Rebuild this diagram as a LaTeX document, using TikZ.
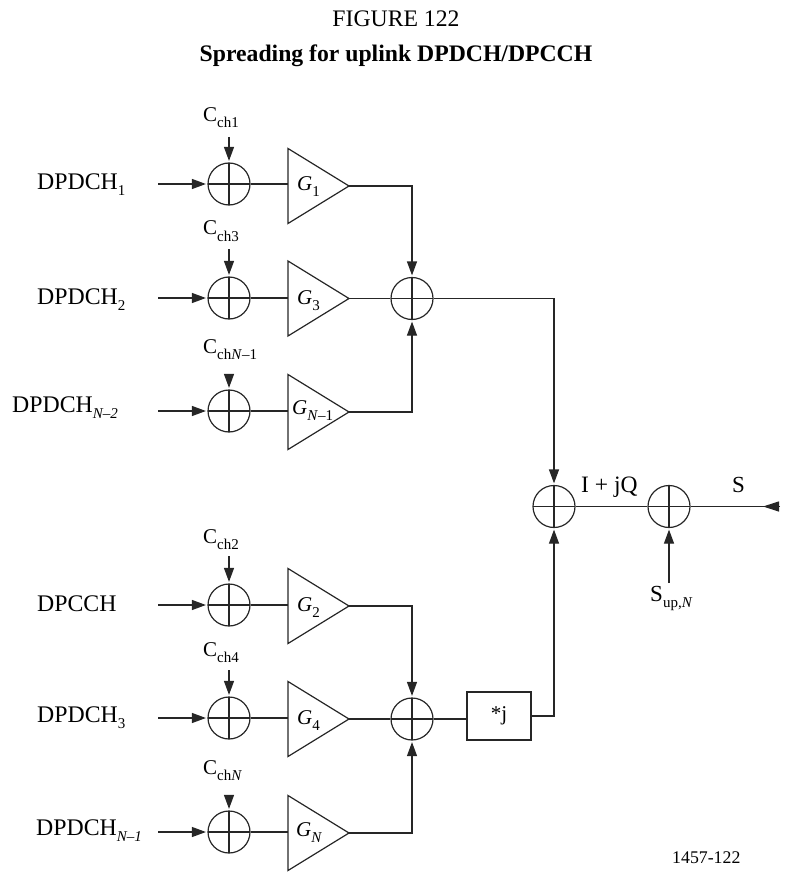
\documentclass[tikz,border=0pt]{standalone}
\usepackage{fontspec}
\setmainfont{Liberation Serif}
\usetikzlibrary{arrows.meta}
\newcommand{\lab}{\fontsize{23.8}{26}\selectfont}
\newcommand{\cod}{\fontsize{21}{24}\selectfont}
\newcommand{\ttl}{\fontsize{23.7}{26}\selectfont}
\newcommand{\sbs}[1]{\raisebox{-6pt}{\fontsize{15}{17}\selectfont #1}}
\tikzset{
  wire/.style={line width=1.2pt, black!85},
  arrowwire/.style={wire, -{Triangle[length=14pt,width=10pt]}, shorten >=1.5pt},
  sumnode/.style={circle, draw=black!85, line width=1.2pt, minimum size=42pt, inner sep=0pt,
    path picture={\draw[wire] (path picture bounding box.north)--(path picture bounding box.south)
      (path picture bounding box.west)--(path picture bounding box.east);}},
  tri/.style={wire, line join=miter},
  txt/.style={inner sep=0pt, font=\lab},
  codetxt/.style={inner sep=0pt, font=\cod},
  boxnode/.style={draw=black!85, line width=1.2pt, minimum width=64pt, minimum height=48pt, inner sep=0pt, font=\cod}
}
\begin{document}
\begin{tikzpicture}[x=1pt,y=-1pt]
\useasboundingbox (0,0) rectangle (785,877);
\node[inner sep=0pt,font=\ttl] (fig) at (396,19) {FIGURE 122};
\node[inner sep=0pt,font=\ttl\bfseries] (title) at (396,56) {Spreading for uplink DPDCH/DPCCH};

% summing nodes
\foreach \n/\y in {a/184,b/298,c/411,d/605,e/718,f/832}
  \node[sumnode] (s\n) at (229,\y) {};
\node[sumnode] (u) at (412,298.5) {};
\node[sumnode] (l) at (412,719) {};
\node[sumnode] (m) at (554,506.5) {};
\node[sumnode] (o) at (669,506.5) {};

% amplifiers
\foreach \n/\y in {a/186,b/298.5,c/412,d/606,e/719,f/833}{
  \coordinate (gl\n) at (288,\y);
  \coordinate (gt\n) at (349,\y);
  \draw[tri] (288,\y-37.5) -- (gt\n) -- (288,\y+37.5) -- cycle;
}
\node[codetxt,anchor=base west] (ga) at (297,191) {\textit{G}\sbs{1}};
\node[codetxt,anchor=base west] (gb) at (297,304) {\textit{G}\sbs{3}};
\node[codetxt,anchor=base west] (gc) at (292,414) {\textit{G}\sbs{\textit{N}–1}};
\node[codetxt,anchor=base west] (gd) at (297,611) {\textit{G}\sbs{2}};
\node[codetxt,anchor=base west] (ge) at (297,724) {\textit{G}\sbs{4}};
\node[codetxt,anchor=base west] (gf) at (296,836) {\textit{G}\sbs{\textit{N}}};

% input labels
\node[txt,anchor=base west] (ia) at (37,189.5) {DPDCH\sbs{1}};
\node[txt,anchor=base west] (ib) at (37,304) {DPDCH\sbs{2}};
\node[txt,anchor=base west] (ic) at (12,412) {DPDCH\sbs{\textit{N–2}}};
\node[txt,anchor=base west] (id) at (37,611) {DPCCH};
\node[txt,anchor=base west] (ie) at (37,722.5) {DPDCH\sbs{3}};
\node[txt,anchor=base west] (if) at (36,835) {DPDCH\sbs{\textit{N–1}}};
\foreach \n/\y in {a/184,b/298,c/411,d/605,e/718,f/832}{
  \coordinate (in\n) at (158,\y);
  \draw[arrowwire] (in\n) -- (s\n.west);
  \draw[wire] (s\n.east) -- (288,\y);
}

% code labels
\node[codetxt,anchor=base west] (ca) at (203,122) {C\sbs{ch1}};
\node[codetxt,anchor=base west] (cb) at (203,235) {C\sbs{ch3}};
\node[codetxt,anchor=base west] (cc) at (203,353) {C\sbs{ch\textit{N}–1}};
\node[codetxt,anchor=base west] (cd) at (203,543) {C\sbs{ch2}};
\node[codetxt,anchor=base west] (ce) at (203,656) {C\sbs{ch4}};
\node[codetxt,anchor=base west] (cf) at (203,774) {C\sbs{ch\textit{N}}};
\foreach \n/\y in {a/137,b/249,c/375,d/556,e/670,f/796}{
  \coordinate (k\n) at (229,\y);
  \draw[arrowwire] (k\n) -- (s\n.north);
}

% adders
\draw[arrowwire] (gta) -| (u.north);
\draw[wire] (gtb) -- (u.west);
\draw[arrowwire] (gtc) -| (u.south);
\draw[arrowwire] (gtd) -| (l.north);
\draw[wire] (gte) -- (l.west);
\draw[arrowwire] (gtf) -| (l.south);

\node[boxnode] (j) at (499,716) {*j};
\draw[wire] (l.east) -- (l.east -| j.west);
\draw[arrowwire] (j.east) -| (m.south);
\draw[arrowwire] (u.east) -| (m.north);
\draw[wire] (m.east) -- (o.west);
\coordinate (send) at (780,506.5);
\coordinate (stip) at (763,506.5);
\draw[wire] (o.east) -- (send);
\draw[wire,-{Triangle[length=16pt,width=10pt]}] (send) -- (stip);
\coordinate (sup) at (669,583);
\draw[arrowwire] (sup) -- (o.south);
\node[txt,anchor=base west,font=\fontsize{23.5}{26}\selectfont] (iq) at (581,492) {I + jQ};
\node[txt,anchor=base west,font=\fontsize{23}{26}\selectfont] (sl) at (732,492.5) {S};
\node[txt,anchor=base west,font=\fontsize{23}{26}\selectfont] (su) at (650,601.5) {S\sbs{up,\textit{N}}};
\node[inner sep=0pt,anchor=base west,font=\fontsize{17.8}{20}\selectfont] (ref) at (672,863) {1457-122};
\end{tikzpicture}
\end{document}
